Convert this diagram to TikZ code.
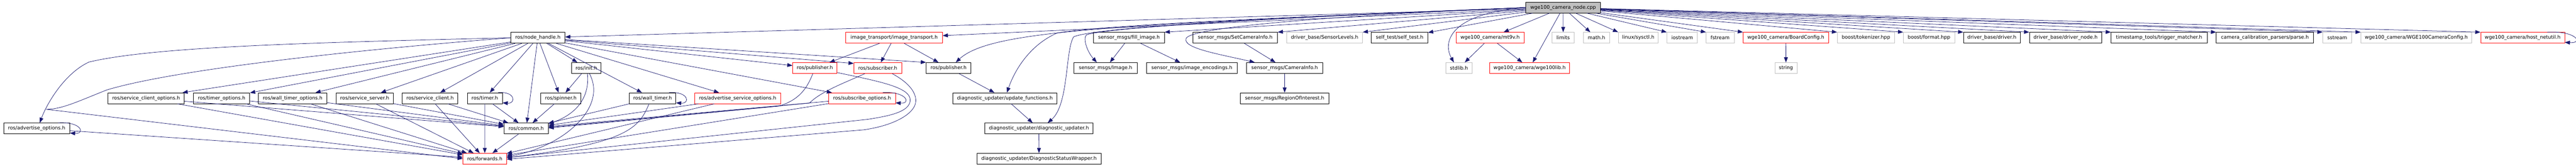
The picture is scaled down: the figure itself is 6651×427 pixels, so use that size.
\documentclass[tikz,border=0pt]{standalone}
\usepackage{fontspec}
\setmainfont{DejaVu Sans}
\usepackage{tikz}
\usetikzlibrary{positioning,arrows.meta}
\definecolor{edgeblue}{HTML}{191970}
\tikzset{
  hd/.style={rectangle, draw=black, fill=white, line width=0.75pt, minimum height=21pt, inner xsep=3pt, inner ysep=1pt, text centered, font=\fontsize{9.5}{11}\selectfont},
  hr/.style={hd, draw=red},
  hg/.style={hd, draw=black!25},
  rt/.style={hd, fill=black!25},
  ed/.style={draw=edgeblue, line width=0.75pt, -{Triangle[length=10pt,width=7.5pt]}}
}
\begin{document}
\begin{tikzpicture}[x=0.75pt, y=-0.75pt]
\useasboundingbox (0,0) rectangle (6651,427);
% top
\node[rt, minimum width=144.4pt] (root) at (4035.8,19.5) {wge100\_camera\_node.cpp};
% row 1
\node[hd, minimum width=105.1pt] (nh) at (1388.6,97.5) {ros/node\_handle.h};
\node[hr, minimum width=187.2pt] (it) at (2308.6,97.5) {image\_transport/image\_transport.h};
\node[hd, minimum width=137.2pt] (fill) at (2915,97.5) {sensor\_msgs/fill\_image.h};
\node[hd, minimum width=163.9pt] (setci) at (3189.2,97.5) {sensor\_msgs/SetCameraInfo.h};
\node[hg, minimum width=147.0pt] (slev) at (3420,97.5) {driver\_base/SensorLevels.h};
\node[hd, minimum width=109.4pt] (stest) at (3613.6,97.5) {self\_test/self\_test.h};
\node[hr, minimum width=131.3pt] (mt9v) at (3847.1,97.5) {wge100\_camera/mt9v.h};
\node[hg, minimum width=42.5pt] (limits) at (4036,97.5) {limits};
\node[hg, minimum width=51.3pt] (math) at (4121.9,97.5) {math.h};
\node[hg, minimum width=77.3pt] (sysctl) at (4229.8,97.5) {linux/sysctl.h};
\node[hg, minimum width=59.2pt] (iostr) at (4343.2,97.5) {iostream};
\node[hg, minimum width=54.1pt] (fstr) at (4441.2,97.5) {fstream};
\node[hr, minimum width=165.4pt] (board) at (4610.8,97.5) {wge100\_camera/BoardConfig.h};
\node[hg, minimum width=111.1pt] (tok) at (4817.7,97.5) {boost/tokenizer.hpp};
\node[hg, minimum width=99.4pt] (fmt) at (4980.5,97.5) {boost/format.hpp};
\node[hd, minimum width=110.0pt] (drv) at (5142.7,97.5) {driver\_base/driver.h};
\node[hd, minimum width=140.0pt] (drvn) at (5333,97.5) {driver\_base/driver\_node.h};
\node[hd, minimum width=186.0pt] (trig) at (5574.6,97.5) {timestamp\_tools/trigger\_matcher.h};
\node[hd, minimum width=188.3pt] (parse) at (5847.8,97.5) {camera\_calibration\_parsers/parse.h};
\node[hg, minimum width=56.0pt] (sstr) at (6034.4,97.5) {sstream};
\node[hg, minimum width=214.7pt] (wcfg) at (6238.6,97.5) {wge100\_camera/WGE100CameraConfig.h};
\node[hr, minimum width=162.6pt] (hnu) at (6513.1,97.5) {wge100\_camera/host\_netutil.h};
% row 2
\node[hd, minimum width=57.2pt] (init) at (1513.9,175.5) {ros/init.h};
\node[hr, minimum width=86.1pt] (pubr) at (2103.9,175.5) {ros/publisher.h};
\node[hr, minimum width=92.4pt] (subr) at (2266.2,175.5) {ros/subscriber.h};
\node[hd, minimum width=86.7pt] (pubb) at (2449.1,175.5) {ros/publisher.h};
\node[hd, minimum width=122.3pt] (img) at (2854.5,175.5) {sensor\_msgs/Image.h};
\node[hd, minimum width=176.3pt] (enc) at (3077.2,175.5) {sensor\_msgs/image\_encodings.h};
\node[hd, minimum width=147.0pt] (ci) at (3316.8,175.5) {sensor\_msgs/CameraInfo.h};
\node[hg, minimum width=51.4pt] (stdlib) at (3767,175.5) {stdlib.h};
\node[hr, minimum width=154.1pt] (wlib) at (3949.3,175.5) {wge100\_camera/wge100lib.h};
\node[hg, minimum width=43.1pt] (string) at (4611.2,175.5) {string};
% row 3
\node[hd, minimum width=147.8pt] (scliopt) at (377.2,253.5) {ros/service\_client\_options.h};
\node[hd, minimum width=109.1pt] (tmropt) at (572.2,253.5) {ros/timer\_options.h};
\node[hd, minimum width=132.3pt] (wtmropt) at (755.7,253.5) {ros/wall\_timer\_options.h};
\node[hd, minimum width=111.1pt] (ssrv) at (941.7,253.5) {ros/service\_server.h};
\node[hd, minimum width=107.7pt] (scli) at (1110.5,253.5) {ros/service\_client.h};
\node[hd, minimum width=68.0pt] (timer) at (1251.8,253.5) {ros/timer.h};
\node[hd, minimum width=78.1pt] (spin) at (1447.9,253.5) {ros/spinner.h};
\node[hd, minimum width=90.0pt] (wtmr) at (1685,253.5) {ros/wall\_timer.h};
\node[hr, minimum width=167.0pt] (aso) at (1904.5,253.5) {ros/advertise\_service\_options.h};
\node[hr, minimum width=128.9pt] (subopt) at (2225.8,253.5) {ros/subscribe\_options.h};
\node[hd, minimum width=202.1pt] (updfn) at (2594.5,253.5) {diagnostic\_updater/update\_functions.h};
\node[hd, minimum width=171.2pt] (roi) at (3316.8,253.5) {sensor\_msgs/RegionOfInterest.h};
% row 4
\node[hd, minimum width=128.1pt] (advopt) at (94.6,331.5) {ros/advertise\_options.h};
\node[hd, minimum width=85.8pt] (common) at (1358.5,331.5) {ros/common.h};
\node[hd, minimum width=209.9pt] (diag) at (2682.4,331.5) {diagnostic\_updater/diagnostic\_updater.h};
% row 5
\node[hr, minimum width=84.4pt] (fwd) at (1251.6,409.5) {ros/forwards.h};
\node[hd, minimum width=240.0pt] (dsw) at (2682.6,409.5) {diagnostic\_updater/DiagnosticStatusWrapper.h};

% includes of the node file
\path
(root) edge[ed] (nh)
(root) edge[ed] (it)
(root) edge[ed] (fill.north east)
(root) edge[ed] (setci.north east)
(root) edge[ed] (slev.north east)
(root) edge[ed] (stest)
(root) edge[ed] (mt9v)
(root) edge[ed] (wlib)
(root) edge[ed] (limits)
(root) edge[ed] (math)
(root) edge[ed] (sysctl.north west)
(root) edge[ed] (iostr.north west)
(root) edge[ed] (fstr.north west)
(root) edge[ed] (board.north west)
(root) edge[ed] (tok.north west)
(root) edge[ed] (fmt.north west)
(root) edge[ed] (drv.north west)
(root) edge[ed] (drvn.north west)
(root) edge[ed] (trig.north west)
(root) edge[ed] (parse.north west)
(root) edge[ed] (sstr.north west)
(root) edge[ed] (wcfg.north west)
(root) edge[ed] (hnu.north west);
\draw[ed] (root.west) .. controls (2900,65) and (2560,75) .. ([xshift=14pt]pubb.north);
\draw[ed] (root.west) .. controls (3300,45) and (2850,65) .. (2730,85) .. controls (2660,115) and (2620,180) .. ([xshift=4pt]updfn.north);
\draw[ed] (root.west) .. controls (3300,45) and (2830,70) .. (2772,95) .. controls (2750,130) and (2760,270) .. ([xshift=17pt]diag.north);
\draw[ed] (root.west) .. controls (3300,45) and (2850,72) .. (2805,90) .. controls (2795,100) and (2808,135) .. ([xshift=-17pt]img.north);
\draw[ed] (root.west) .. controls (3450,40) and (3068,70) .. (3062,100) .. controls (3055,125) and (3150,140) .. ([xshift=16pt]ci.north west);
\draw[ed] (root.west) .. controls (3740,35) and (3725,110) .. ([xshift=-10pt]stdlib.north);

% node_handle.h
\path
(nh) edge[ed] (scliopt)
(nh) edge[ed] (tmropt)
(nh) edge[ed] (wtmropt)
(nh) edge[ed] (ssrv)
(nh) edge[ed] (scli)
(nh) edge[ed] (timer)
(nh) edge[ed] (common)
(nh) edge[ed] (spin)
(nh) edge[ed] (init)
(nh) edge[ed] (wtmr)
(nh) edge[ed] (aso)
(nh) edge[ed] (subopt)
(nh) edge[ed] (pubr)
(nh) edge[ed] ([yshift=-2pt]subr.north west)
(nh) edge[ed] (pubb.north west);
\draw[ed] (nh.west) .. controls (800,110) and (400,120) .. (230,160) .. controls (165,190) and (120,270) .. ([xshift=6pt]advopt.north);
\draw[ed] (nh.west) .. controls (900,130) and (450,180) .. (276,232) .. controls (200,262) and (160,282) .. (119,282) -- (fwd.west);

% the ros headers below
\path
(init) edge[ed] (spin)
(spin) edge[ed] (common)
(common) edge[ed] (fwd)
(timer) edge[ed] (common)
(timer) edge[ed] (fwd)
(wtmr) edge[ed] (common)
(scliopt) edge[ed] (common)
(scliopt) edge[ed] (fwd)
(tmropt) edge[ed] (common)
(tmropt) edge[ed] (fwd)
(wtmropt) edge[ed] (common)
(wtmropt) edge[ed] (fwd)
(ssrv) edge[ed] (common)
(ssrv) edge[ed] (fwd)
(scli) edge[ed] (common)
(scli) edge[ed] (fwd)
(advopt) edge[ed] (fwd)
(aso) edge[ed] (common)
(aso) edge[ed] (fwd)
(subopt) edge[ed] (common)
(subopt) edge[ed] (fwd);
\draw[ed] ([xshift=2pt]init.south) .. controls (1522,240) and (1500,290) .. ([yshift=-2pt]common.north east);
\draw[ed] ([xshift=6pt]init.south) .. controls (1570,280) and (1450,380) .. ([yshift=4pt]fwd.east);
\draw[ed] ([xshift=-7pt]wtmr.south) .. controls (1650,330) and (1620,370) .. ([yshift=2pt]fwd.east);
\draw[ed] ([xshift=-4pt]pubr.south) .. controls (2085,225) and (2065,258) .. (2010,274) -- ([yshift=1pt]common.east);
\draw[ed] ([yshift=2pt]pubr.south east) .. controls (2270,210) and (2350,225) .. (2350,258) .. controls (2350,290) and (2290,300) .. (2240,308) -- ([yshift=2pt]fwd.east);
\draw[ed] ([xshift=-25pt]subr.south) .. controls (2190,210) and (2120,235) .. (2090,266) -- ([yshift=2pt]common.east);
\draw[ed] ([xshift=28pt]subr.south) .. controls (2350,215) and (2372,245) .. (2362,272) .. controls (2350,300) and (2300,325) .. (2230,335) -- ([yshift=-1pt]fwd.east);

% image transport, diagnostics, messages
\path
(it) edge[ed] (pubr)
(it) edge[ed] (subr)
(it) edge[ed] (pubb)
(pubb) edge[ed] (updfn)
(updfn) edge[ed] (diag)
(diag) edge[ed] (dsw)
(fill) edge[ed] (img)
(fill) edge[ed] (enc)
(setci) edge[ed] (ci)
(ci) edge[ed] (roi)
(mt9v) edge[ed] (stdlib)
(mt9v) edge[ed] (wlib)
(board) edge[ed] (string);

% self loops
\draw[ed] ([xshift=-23pt]advopt.north east) .. controls +(46pt,3pt) and +(30pt,-2pt) .. ([yshift=2pt]advopt.south east);
\draw[ed] ([xshift=-8.6pt]timer.north east) .. controls +(34pt,3pt) and +(26pt,-2pt) .. ([yshift=2pt]timer.south east);
\draw[ed] ([xshift=-13.5pt]wtmr.north east) .. controls +(38pt,3pt) and +(28pt,-2pt) .. ([yshift=2pt]wtmr.south east);
\draw[ed] ([xshift=-24.75pt]subopt.north east) .. controls +(46pt,3pt) and +(31pt,-2pt) .. ([yshift=2pt]subopt.south east);
\draw[ed] ([xshift=-33.75pt]hnu.north east) .. controls +(56pt,3pt) and +(37pt,-2pt) .. ([yshift=2pt]hnu.south east);
\end{tikzpicture}
\end{document}
